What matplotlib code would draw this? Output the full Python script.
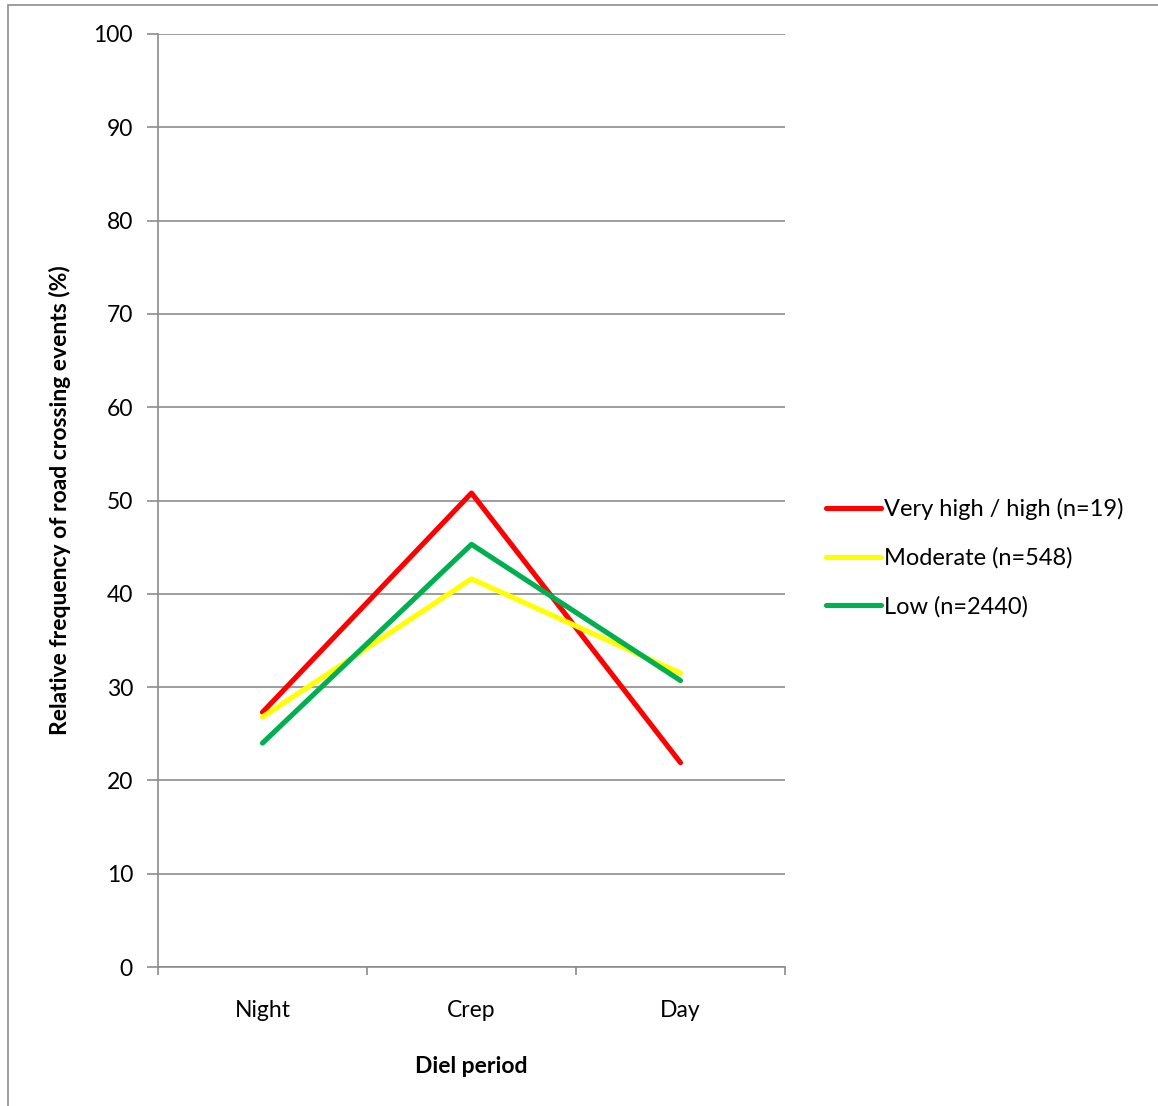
import matplotlib
matplotlib.use("Agg")
import matplotlib.pyplot as plt
from matplotlib.patches import Rectangle

periods = ["Night", "Crep", "Day"]
very_high = [27.3, 50.8, 21.9]
moderate = [26.8, 41.6, 31.5]
low = [24.0, 45.3, 30.7]

series = [
    ("Very high / high (n=19)", very_high, "#ff0000"),
    ("Moderate (n=548)", moderate, "#ffff00"),
    ("Low (n=2440)", low, "#00b050"),
]

plt.rcParams["font.family"] = ["Lato", "DejaVu Sans"]
fs = 16.5

fig = plt.figure(figsize=(11.58, 11.06), dpi=100)
ax = fig.add_axes([158 / 1158, 1 - 967 / 1106, (785 - 158) / 1158, (967 - 34) / 1106])

x = list(range(len(periods)))
for label, vals, col in series:
    ax.plot(x, vals, color=col, lw=3.7, solid_capstyle="round", label=label)

ax.set_xlim(-0.5, len(periods) - 0.5)
ax.set_ylim(0, 100)
ax.set_yticks(range(0, 101, 10))
ax.yaxis.grid(True, color="#8c8c8c", lw=1.2)
ax.set_axisbelow(True)

# category labels between boundary ticks
ax.set_xticks([i - 0.5 for i in range(len(periods) + 1)])
ax.set_xticklabels([])
ax.set_xticks(x, minor=True)
ax.set_xticklabels(periods, minor=True)
ax.tick_params(axis="x", which="minor", length=0, pad=24, labelsize=fs)
ax.tick_params(axis="x", which="major", length=6, width=1.2, color="#8c8c8c")
ax.tick_params(axis="y", length=8, width=1.2, color="#8c8c8c", pad=10, labelsize=fs)

for s in ["top", "right"]:
    ax.spines[s].set_visible(False)
for s in ["left", "bottom"]:
    ax.spines[s].set_color("#8c8c8c")
    ax.spines[s].set_linewidth(1.2)

ax.set_xlabel("Diel period", fontsize=fs, fontweight="bold", labelpad=25)
ax.set_ylabel("Relative frequency of road crossing events (%)", fontsize=fs,
              fontweight="bold", labelpad=16)

fig.legend(loc="center left", bbox_to_anchor=(805 / 1158, 1 - 558 / 1106),
           frameon=False, fontsize=fs + 0.5, handlelength=2.3, handletextpad=0.15,
           labelspacing=1.15)

fig.patches.append(Rectangle((8 / 1158, -0.01), 1.2, 1 - 5 / 1106 + 0.01,
                             transform=fig.transFigure, fill=False,
                             edgecolor="#8c8c8c", lw=1.2))

fig.savefig("out.png", dpi=100)
